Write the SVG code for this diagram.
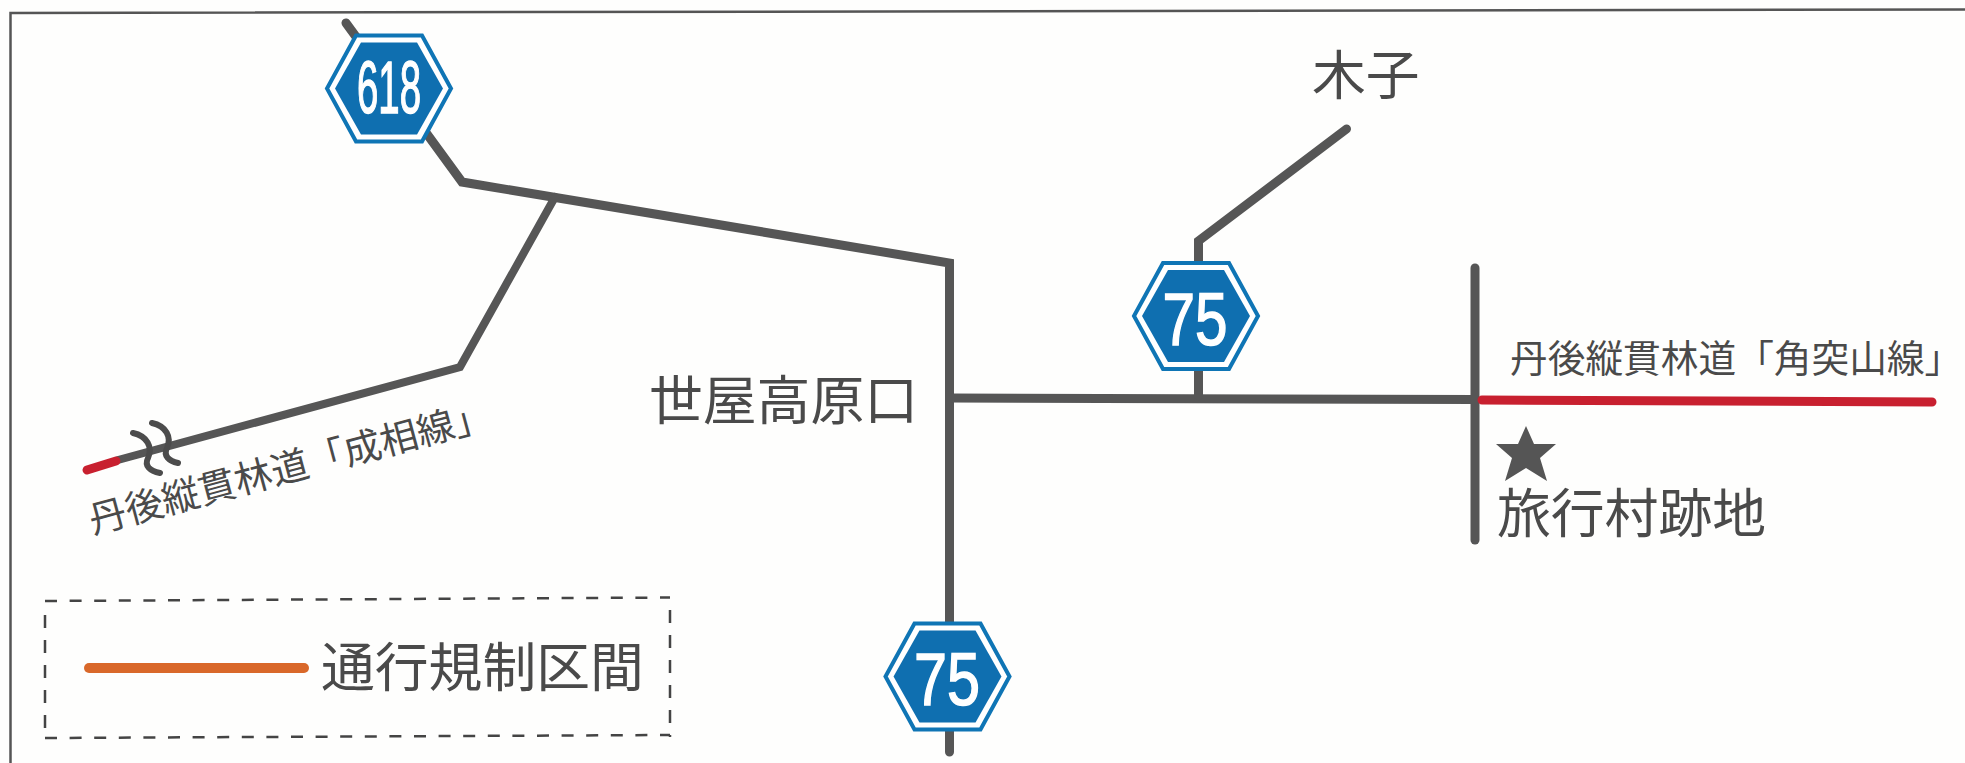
<svg xmlns="http://www.w3.org/2000/svg" width="1965" height="763" viewBox="0 0 1965 763">
<style>
.road{fill:none;stroke:#565656;stroke-width:9;stroke-linecap:round;stroke-linejoin:miter}
.red{fill:none;stroke:#c8202f;stroke-width:9;stroke-linecap:round}
.lbl{font-family:"Noto Sans CJK JP","Liberation Sans",sans-serif;font-weight:400;fill:#4a4a4a}
.big{font-size:53.800px}
.small{font-size:37.700px}
.num{font-family:"Liberation Sans",Arial,sans-serif;font-size:74px;fill:#fff;stroke:#fff;stroke-width:1.500;text-anchor:middle}
.hexo{fill:#fff;stroke:#0f75b5;stroke-width:4;stroke-linejoin:miter}
.hexi{fill:#0f6fb0}
</style>
<defs>
<g id="hex">
<polygon class="hexo" points="-62,0 -33,-53 33,-53 62,0 33,53 -33,53"/>
<polygon class="hexi" points="-54,0 -28,-46 28,-46 54,0 28,46 -28,46"/>
</g>
</defs>
<rect width="1965" height="763" fill="#fefefd"/>
<path d="M10.500 763V13L1965 9.500" fill="none" stroke="#555" stroke-width="2.500"/>
<g id="connectors">
<path class="road" d="M346 23L462 182L949.500 263V752"/>
<path class="road" style="stroke-width:8" d="M555 197L460 367L118 460"/>
<path class="road" style="stroke-linecap:butt" d="M949 398L1475 399.500"/>
<path class="road" d="M1198.500 396V241L1346.500 129"/>
<path class="road" d="M1475 268V540"/>
<path class="red" d="M1482 400L1932 402"/>
<path class="red" d="M87 470L116 461"/>
<path fill="none" stroke="#4c4c4c" stroke-width="6" stroke-linecap="round" d="M133 433C147 436 153 447 148 458C144 466 150 471 160 473M152 423C166 426 172 437 167 448C163 456 169 461 178 463"/>
</g>
<g id="legend">
<path d="M45 601L670 597.500" fill="none" stroke="#444" stroke-width="2.500" stroke-dasharray="12 12.600"/>
<path d="M670 610V737" fill="none" stroke="#444" stroke-width="2.500" stroke-dasharray="13 12"/>
<path d="M45 615V735" fill="none" stroke="#444" stroke-width="2.500" stroke-dasharray="13 12"/>
<path d="M45 738L670 735" fill="none" stroke="#444" stroke-width="2.500" stroke-dasharray="12 12.600"/>
<path d="M89 668H304" fill="none" stroke="#d9682a" stroke-width="10" stroke-linecap="round"/>
<text class="lbl big" x="321" y="687">通行規制区間</text>
</g>
<g id="hex-618"><use href="#hex" transform="translate(389,88.500)"/><text class="num" x="389" y="113" textLength="64" lengthAdjust="spacingAndGlyphs">618</text></g>
<g id="hex-75-upper"><use href="#hex" transform="translate(1196,316)"/><text class="num" x="1195" y="345" textLength="65" lengthAdjust="spacingAndGlyphs">75</text></g>
<g id="hex-75-lower"><use href="#hex" transform="translate(947.500,676.500)"/><text class="num" x="947" y="705" textLength="66" lengthAdjust="spacingAndGlyphs">75</text></g>
<g id="kigo"><text class="lbl big" x="1312" y="95">木子</text></g>
<g id="yoya"><text class="lbl big" x="649" y="420">世屋高原口</text></g>
<g id="ryokomura">
<polygon fill="#555" points="1526,426 1534,444 1556,444 1540,458 1547,481 1526,468 1505,481 1512,458 1496,444 1518,444"/>
<text class="lbl big" x="1497" y="533">旅行村跡地</text>
</g>
<g id="kakutsuki"><text class="lbl small" x="1510" y="372">丹後縦貫林道「角突山線」</text></g>
<g id="nariai"><text class="lbl small" transform="translate(93,534) rotate(-15)">丹後縦貫林道「成相線」</text></g>
</svg>
